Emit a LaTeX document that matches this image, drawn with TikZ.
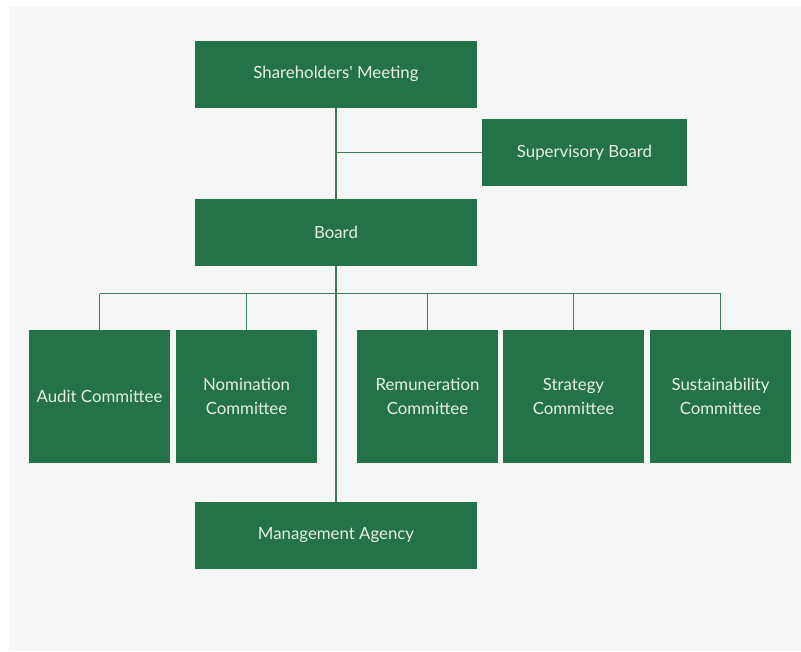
\documentclass[tikz,border=0pt]{standalone}
\usepackage{fontspec}
\setmainfont{Lato}
\definecolor{orggreen}{HTML}{23724A}
\definecolor{orgtext}{HTML}{E6EFE8}
\definecolor{orgline}{HTML}{3A7D58}
\definecolor{orgbg}{HTML}{F6F6F6}

\begin{document}
\begin{tikzpicture}[x=1pt, y=-1pt,
    orgbox/.style={rectangle, fill=orggreen, text=orgtext, align=center, inner sep=0pt,
        font=\fontsize{16.8}{24.5}\selectfont},
    widebox/.style={orgbox, minimum width=282pt, minimum height=67pt},
    committee/.style={orgbox, minimum width=141pt, minimum height=133pt},
    orgwire/.style={draw=orgline, line width=1.1pt}]
    % Canvas
    \useasboundingbox (0,0) rectangle (801,651);
    \fill[orgbg] (9,6) rectangle (801,651);

    % Top level
    \node[widebox] (share) at (336,74) {Shareholders\textquotesingle\ Meeting};
    \node[orgbox, minimum width=205pt, minimum height=67pt] (superv) at (584.5,152.5) {Supervisory Board};
    \node[widebox] (board) at (336,232.5) {Board};

    % Committees
    \node[committee] (audit) at (99.5,396.5) {Audit Committee};
    \node[committee] (nomin) at (246.5,396.5) {Nomination\\Committee};
    \node[committee] (remun) at (427.5,396.5) {Remuneration\\Committee};
    \node[committee] (strat) at (573.5,396.5) {Strategy\\Committee};
    \node[committee] (sustain) at (720.5,396.5) {Sustainability\\Committee};

    % Management
    \node[widebox] (mgmt) at (336,535.5) {Management Agency};

    % Connectors
    \draw[orgwire] (share.south) -- (board.north);
    \draw[orgwire] (share.south |- superv.west) -- (superv.west);
    \draw[orgwire] (board.south) -- (mgmt.north);
    \coordinate (bus) at (336,293.5);
    \draw[orgwire] (audit.north |- bus) -- (sustain.north |- bus);
    \foreach \c in {audit,nomin,remun,strat,sustain}
        \draw[orgwire] (\c.north) -- (\c.north |- bus);
\end{tikzpicture}
\end{document}
